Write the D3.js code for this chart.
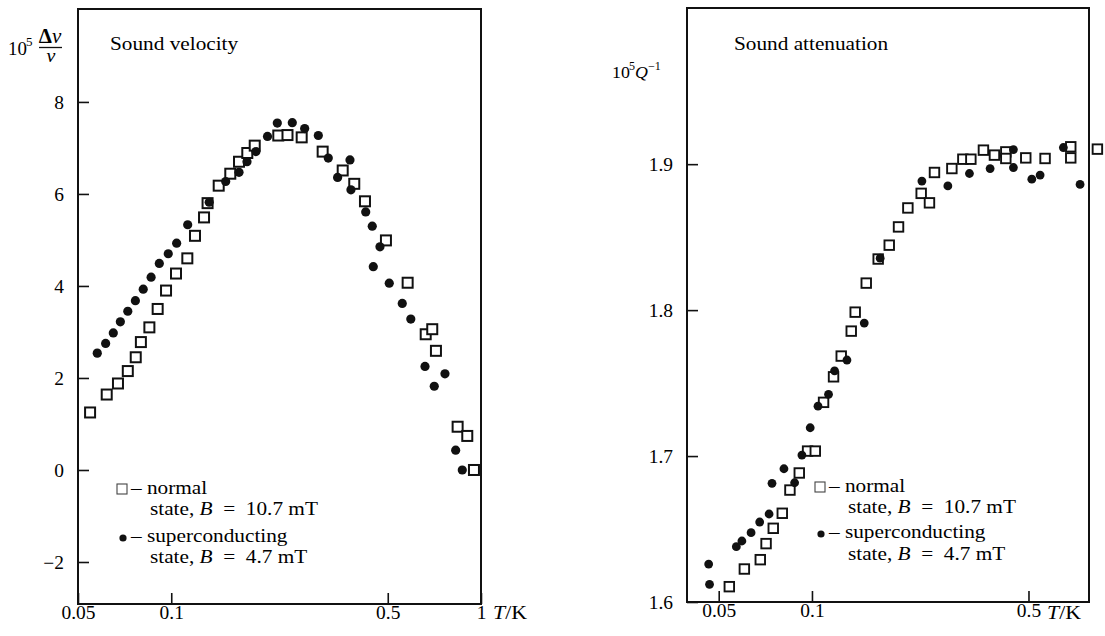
<!DOCTYPE html>
<html><head><meta charset="utf-8">
<script src="https://cdn.jsdelivr.net/npm/d3@7"></script>
<style>
body{margin:0;background:#fff}
text{font-family:"Liberation Serif","Times New Roman",serif;fill:#000}
</style>
</head><body><svg id="c" width="1105" height="636"></svg>
<script>
// ---------- data ----------
const velNormalT = [0.0547,0.0619,0.0673,0.0724,0.0768,0.0798,0.0850,0.0904,0.0962,0.1036,0.1127,0.1193,0.1276,0.1310,0.1423,0.1551,0.1655,0.176,0.186,0.2216,0.2373,0.2637,0.3082,0.3577,0.3898,0.4221,0.4933,0.5797,0.663,0.696,0.7154,0.8405,0.903,0.949];
const velNormalV = [1.25,1.64,1.88,2.15,2.45,2.78,3.10,3.50,3.90,4.27,4.60,5.09,5.49,5.80,6.18,6.44,6.70,6.89,7.05,7.27,7.28,7.23,6.92,6.51,6.22,5.84,4.99,4.07,2.95,3.06,2.59,0.94,0.74,0.0];
const velSuperT = [0.0577,0.0614,0.065,0.0685,0.0724,0.0766,0.0812,0.0861,0.0915,0.0978,0.1041,0.1130,0.1326,0.1499,0.1655,0.1756,0.1877,0.2045,0.22,0.2459,0.2696,0.2984,0.3213,0.3444,0.3776,0.3803,0.4244,0.4456,0.4719,0.449,0.5056,0.557,0.5935,0.6595,0.7065,0.765,0.8284,0.87];
const velSuperV = [2.54,2.75,2.98,3.22,3.45,3.68,3.93,4.19,4.49,4.70,4.93,5.33,5.82,6.27,6.47,6.70,6.92,7.25,7.54,7.55,7.42,7.27,6.78,6.36,6.74,6.09,5.61,5.30,4.85,4.42,4.06,3.62,3.28,2.25,1.82,2.09,0.43,0.0];

const attNormalT = [0.0541,0.0605,0.0681,0.0711,0.0750,0.0802,0.0849,0.091,0.0968,0.1025,0.109,0.1174,0.1243,0.1339,0.1379,0.1497,0.1636,0.1776,0.1903,0.204,0.2252,0.2395,0.2486,0.2829,0.307,0.3258,0.3577,0.3882,0.4225,0.4225,0.49,0.5656,0.6846,0.6846,0.8345];
const attNormalQ = [1.6105,1.6226,1.629,1.640,1.6505,1.6608,1.6767,1.6884,1.7034,1.7034,1.7368,1.7543,1.7685,1.7856,1.7986,1.8185,1.835,1.8445,1.857,1.870,1.880,1.8735,1.8943,1.897,1.9034,1.9034,1.9096,1.9062,1.9084,1.9039,1.9043,1.9039,1.9119,1.9043,1.9103];
const attSuperT = [0.0464,0.0467,0.057,0.0594,0.0636,0.0678,0.0727,0.0743,0.0812,0.0879,0.0928,0.0987,0.1046,0.1131,0.1183,0.1297,0.1475,0.166,0.2264,0.2746,0.3224,0.3759,0.447,0.447,0.5125,0.5451,0.648,0.7336];
const attSuperQ = [1.626,1.6121,1.6379,1.6418,1.6475,1.6548,1.6603,1.6813,1.6913,1.6817,1.7007,1.7194,1.7342,1.7423,1.7584,1.7658,1.7911,1.8356,1.8884,1.8851,1.8936,1.897,1.91,1.8977,1.8897,1.8925,1.9114,1.8861];

const velXTicks = [0.05,0.1,0.5,1];
const velXTickLabels = ["0.05","0.1","0.5","1"];
const velYTicks = [-2,0,2,4,6,8];
const velYTickLabels = ["\u22122","0","2","4","6","8"];
const attXTicks = [0.05,0.1,0.5];
const attXTickLabels = ["0.05","0.1","0.5"];
const attYTicks = [1.6,1.7,1.8,1.9];
const attYTickLabels = ["1.6","1.7","1.8","1.9"];

// ---------- drawing ----------
const SX = 1.15;
const svg = d3.select("#c");

function stext(parent, x, y, size, anchor, sx) {
  return parent.append("text")
    .attr("transform", `translate(${x},${y}) scale(${sx||SX},1)`)
    .attr("font-size", size).attr("text-anchor", anchor || "start");
}

function panel(cfg) {
  const g = svg.append("g");
  const x = d3.scaleLog().domain(cfg.xDomain).range([cfg.left, cfg.right]);
  const y = d3.scaleLinear().domain(cfg.yDomain).range([cfg.bottom, cfg.top]);

  const ya = d3.axisLeft(y).tickValues(cfg.yTicks)
    .tickFormat((d, i) => cfg.yLabels[i]).tickSize(-11).tickSizeOuter(0).tickPadding(0);
  const gy = g.append("g").attr("transform", `translate(${cfg.left},0)`).call(ya);
  gy.select(".domain").remove();
  gy.selectAll(".tick line").attr("stroke", "#111").attr("stroke-width", 1.6);
  gy.selectAll(".tick text").attr("x", null).attr("dy", "0.34em")
    .attr("font-size", 18).attr("fill", "#000").attr("font-family", null)
    .attr("transform", `translate(-14,0) scale(1.08,1)`);

  const xa = d3.axisBottom(x).tickValues(cfg.xTicks)
    .tickFormat((d, i) => cfg.xLabels[i]).tickSize(-11).tickSizeOuter(0).tickPadding(0);
  const gx = g.append("g").attr("transform", `translate(0,${cfg.bottom})`).call(xa);
  gx.select(".domain").remove();
  gx.selectAll(".tick line").attr("stroke", "#111").attr("stroke-width", 1.6);
  gx.selectAll(".tick text").attr("y", null).attr("dy", null)
    .attr("font-size", 18).attr("fill", "#000").attr("font-family", null)
    .attr("transform", `translate(0,15) scale(1.08,1)`);

  g.append("rect").attr("x", cfg.left).attr("y", cfg.top)
    .attr("width", cfg.right - cfg.left).attr("height", cfg.bottom - cfg.top)
    .attr("fill", "none").attr("stroke", "#111").attr("stroke-width", 2);

  // normal: open squares
  const s = cfg.sq;
  g.append("g").selectAll("rect").data(cfg.nT.map((t, i) => [t, cfg.nV[i]])).join("rect")
    .attr("x", d => x(d[0]) - s / 2).attr("y", d => y(d[1]) - s / 2)
    .attr("width", s).attr("height", s)
    .attr("fill", "#fff").attr("stroke", "#111").attr("stroke-width", cfg.sw);
  // superconducting: filled circles
  g.append("g").selectAll("circle").data(cfg.sT.map((t, i) => [t, cfg.sV[i]])).join("circle")
    .attr("cx", d => x(d[0])).attr("cy", d => y(d[1])).attr("r", cfg.r).attr("fill", "#111");

  // x axis unit label
  const tk = stext(g, cfg.unitX, 619, 19, "start");
  tk.append("tspan").attr("font-style", "italic").text("T");
  tk.append("tspan").text("/K");

  // title
  stext(g, cfg.titleX, 50, 18.5, "start").text(cfg.title);

  // legend
  const L = cfg.leg;
  g.append("rect").attr("x", L.x - 5).attr("y", L.y1 - 10).attr("width", 10).attr("height", 10)
    .attr("fill", "#fff").attr("stroke", "#444").attr("stroke-width", 1.1);
  stext(g, L.x + 9, L.y1, 18.5).text("\u2013 normal");
  const l2 = stext(g, L.tx, L.y2, 18.5);
  l2.append("tspan").text("state, ");
  l2.append("tspan").attr("font-style", "italic").text("B");
  l2.append("tspan").text("\u2002=\u200210.7 mT");
  g.append("circle").attr("cx", L.x + 1).attr("cy", L.y3 - 4).attr("r", 3.6).attr("fill", "#111");
  stext(g, L.x + 9, L.y3, 18.5).text("\u2013 superconducting");
  const l4 = stext(g, L.tx, L.y4, 18.5);
  l4.append("tspan").text("state, ");
  l4.append("tspan").attr("font-style", "italic").text("B");
  l4.append("tspan").text("\u2002=\u20024.7 mT");
  return g;
}

const g1 = panel({
  left: 78, right: 481, top: 9, bottom: 604,
  xDomain: [0.05, 1], yDomain: [-2.913, 10.02],
  xTicks: velXTicks, xLabels: velXTickLabels, yTicks: velYTicks, yLabels: velYTickLabels,
  nT: velNormalT, nV: velNormalV, sT: velSuperT, sV: velSuperV,
  sq: 10, sw: 2, r: 4.6,
  unitX: 493, titleX: 110, title: "Sound velocity",
  leg: {x: 122, tx: 150, y1: 494, y2: 515, y3: 542, y4: 563}
});
const g2 = panel({
  left: 687, right: 1089, top: 8, bottom: 602,
  xDomain: [0.0395, 0.784], yDomain: [1.6, 2.007],
  xTicks: attXTicks, xLabels: attXTickLabels, yTicks: attYTicks, yLabels: attYTickLabels,
  nT: attNormalT, nV: attNormalQ, sT: attSuperT, sV: attSuperQ,
  sq: 9.5, sw: 1.9, r: 4.4,
  unitX: 1047, titleX: 734, title: "Sound attenuation",
  leg: {x: 820, tx: 848, y1: 492, y2: 513, y3: 538, y4: 560}
});

// y-axis labels
stext(svg, 8, 55, 18, "start", 1.05).text("10");
stext(svg, 26, 46, 12.5, "start", 1.05).text("5");
const num = stext(svg, 50, 43, 20, "middle", 1.05);
num.append("tspan").attr("font-weight", "bold").text("\u0394");
num.append("tspan").attr("font-style", "italic").text("v");
svg.append("line").attr("x1", 39).attr("x2", 62).attr("y1", 47.5).attr("y2", 47.5)
  .attr("stroke", "#111").attr("stroke-width", 1.3);
stext(svg, 51, 62, 19, "middle", 1.05).attr("font-style", "italic").text("v");

stext(svg, 612, 78, 17, "start", 1.05).text("10");
stext(svg, 629, 70, 11.5, "start", 1.05).text("5");
stext(svg, 635, 78, 17, "start", 1.05).attr("font-style", "italic").text("Q");
stext(svg, 648, 70, 11.5, "start", 1.05).text("\u22121");
</script></body></html>
